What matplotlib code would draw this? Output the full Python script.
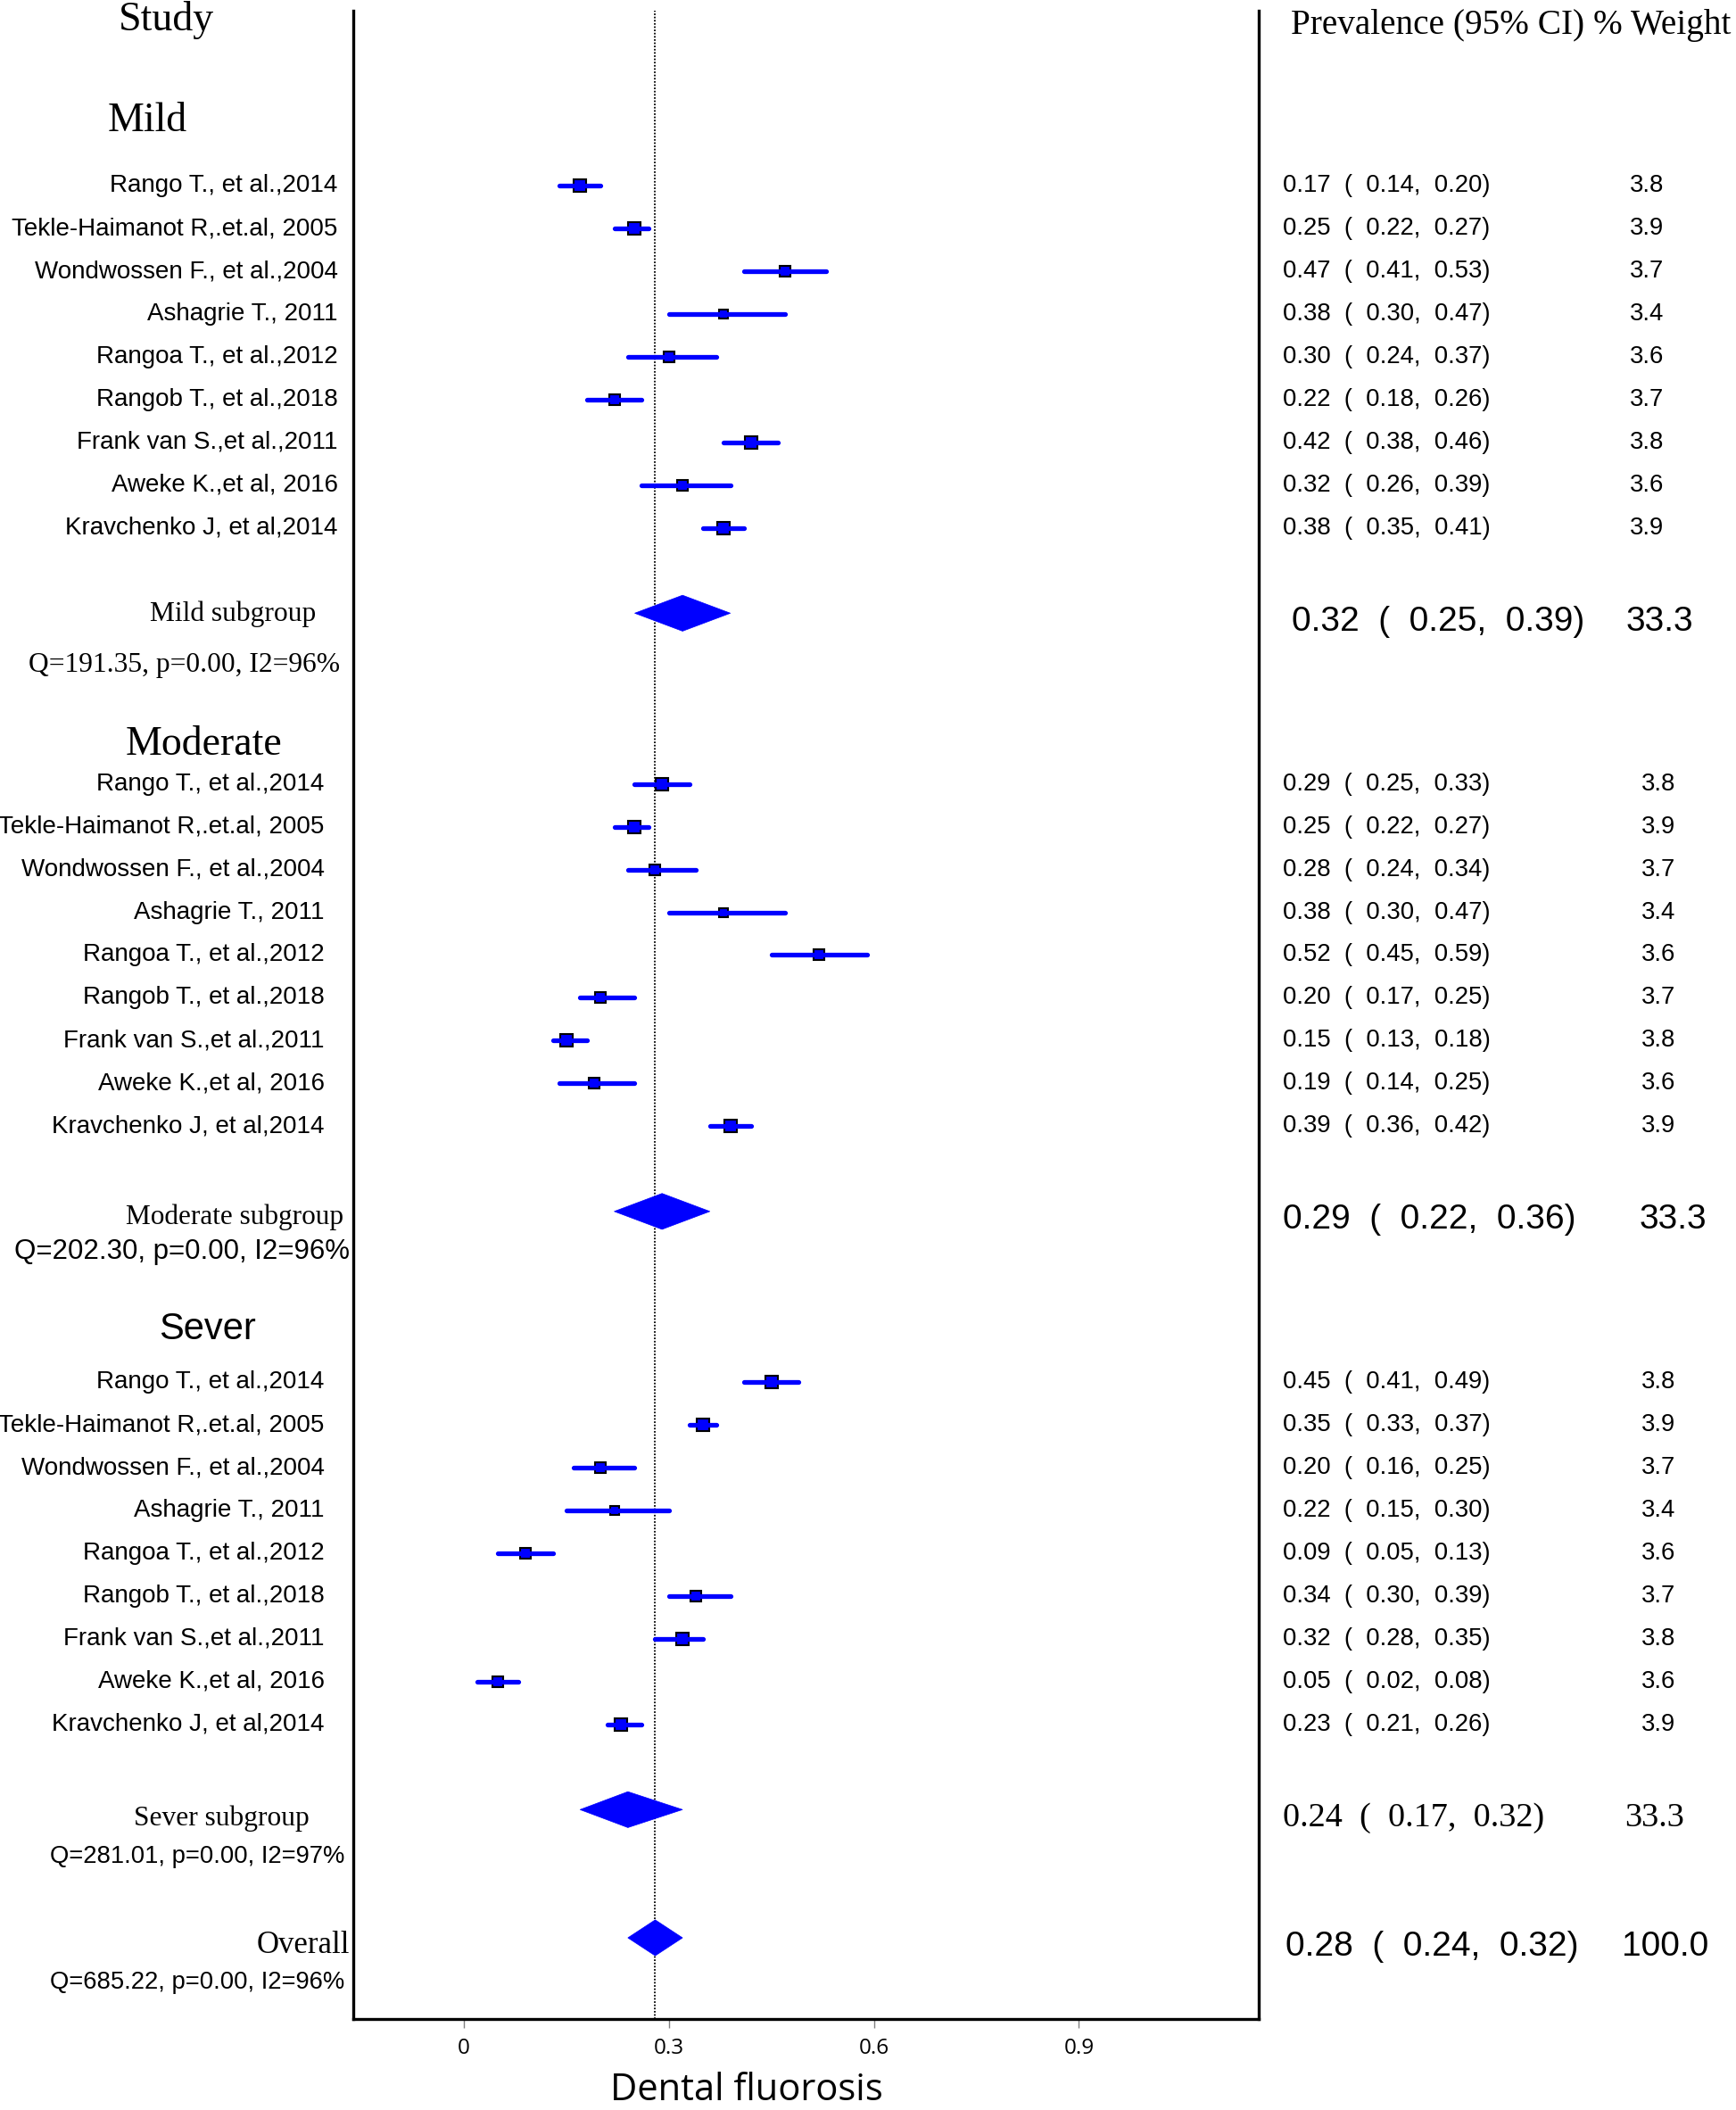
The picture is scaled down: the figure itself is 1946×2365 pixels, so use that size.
import matplotlib
matplotlib.use('Agg')
import matplotlib.pyplot as plt
import matplotlib.transforms as mtransforms
from matplotlib.patches import Polygon

# 数据
studies = ['Rango T., et al.,2014', 'Tekle-Haimanot R,.et.al, 2005', 'Wondwossen F., et al.,2004',
           'Ashagrie T., 2011', 'Rangoa T., et al.,2012', 'Rangob T., et al.,2018',
           'Frank van S.,et al.,2011', 'Aweke K.,et al, 2016', 'Kravchenko J, et al,2014']
groups = ['Mild', 'Moderate', 'Sever']

mild_est = [0.17, 0.25, 0.47, 0.38, 0.30, 0.22, 0.42, 0.32, 0.38]
mild_lo = [0.14, 0.22, 0.41, 0.30, 0.24, 0.18, 0.38, 0.26, 0.35]
mild_hi = [0.20, 0.27, 0.53, 0.47, 0.37, 0.26, 0.46, 0.39, 0.41]
mild_w = [3.8, 3.9, 3.7, 3.4, 3.6, 3.7, 3.8, 3.6, 3.9]

mod_est = [0.29, 0.25, 0.28, 0.38, 0.52, 0.20, 0.15, 0.19, 0.39]
mod_lo = [0.25, 0.22, 0.24, 0.30, 0.45, 0.17, 0.13, 0.14, 0.36]
mod_hi = [0.33, 0.27, 0.34, 0.47, 0.59, 0.25, 0.18, 0.25, 0.42]
mod_w = [3.8, 3.9, 3.7, 3.4, 3.6, 3.7, 3.8, 3.6, 3.9]

sev_est = [0.45, 0.35, 0.20, 0.22, 0.09, 0.34, 0.32, 0.05, 0.23]
sev_lo = [0.41, 0.33, 0.16, 0.15, 0.05, 0.30, 0.28, 0.02, 0.21]
sev_hi = [0.49, 0.37, 0.25, 0.30, 0.13, 0.39, 0.35, 0.08, 0.26]
sev_w = [3.8, 3.9, 3.7, 3.4, 3.6, 3.7, 3.8, 3.6, 3.9]

sub_labels = ['Mild subgroup', 'Moderate subgroup', 'Sever subgroup']
sub_est = [0.32, 0.29, 0.24]
sub_lo = [0.25, 0.22, 0.17]
sub_hi = [0.39, 0.36, 0.32]
sub_w = [33.3, 33.3, 33.3]
sub_het = ['Q=191.35, p=0.00, I2=96%', 'Q=202.30, p=0.00, I2=96%', 'Q=281.01, p=0.00, I2=97%']

overall_est, overall_lo, overall_hi, overall_w = 0.28, 0.24, 0.32, 100.0
overall_het = 'Q=685.22, p=0.00, I2=96%'

xticks = [0, 0.3, 0.6, 0.9]
xtick_labels = ['0', '0.3', '0.6', '0.9']

SANS = 'Liberation Sans'
SERIF = 'Liberation Serif'

# 布局（行位置）
study_rows = [[4 + i for i in range(9)], [18 + i for i in range(9)], [32 + i for i in range(9)]]
header_rows = [2.49, 17.07, 30.77]
sub_rows = [14, 28, 42]
overall_row = 45

fig = plt.figure(figsize=(19.46, 23.65), dpi=100)
ax = fig.add_axes([395.6 / 1946, 1 - 2263 / 2365, (1411 - 395.6) / 1946, (2263 - 12) / 2365])
ax.set_xlim(-0.1624, 1.1632)
ax.set_ylim(46.9, -0.1)
trans = mtransforms.blended_transform_factory(fig.transFigure, ax.transData)


def fmt(e, l, h):
    return '%.2f  (  %.2f,  %.2f)' % (e, l, h)


def marker_size(w):
    side = min(16.5, 12.5 + 8 * (w - 3.4))
    return (side - 2) * 0.72


all_data = [(mild_est, mild_lo, mild_hi, mild_w),
            (mod_est, mod_lo, mod_hi, mod_w),
            (sev_est, sev_lo, sev_hi, sev_w)]
name_right = [0.1946, 0.1868, 0.1868]
weight_x = [0.9388, 0.9457, 0.9457]

for g, (est, lo, hi, w) in enumerate(all_data):
    for i in range(9):
        y = study_rows[g][i]
        ax.plot([est[i]], [y], marker='s', ms=marker_size(w[i]), mfc='blue', mec='black',
                mew=1.5, zorder=2)
        ax.plot([lo[i], hi[i]], [y, y], color='blue', lw=3.8, solid_capstyle='round', zorder=3)
        ax.text(name_right[g], y, studies[i], transform=trans, ha='right', va='center',
                family=SANS, fontsize=20)
        ax.text(0.7387, y, fmt(est[i], lo[i], hi[i]), transform=trans, ha='left', va='center',
                family=SANS, fontsize=19.8)
        ax.text(weight_x[g], y, '%.1f' % w[i], transform=trans, ha='left', va='center',
                family=SANS, fontsize=19.8)


def diamond(e, l, h, y):
    ax.add_patch(Polygon([(l, y), (e, y - 0.42), (h, y), (e, y + 0.42)], closed=True,
                         facecolor='blue', edgecolor='blue', lw=0.5, zorder=3))


for g in range(3):
    diamond(sub_est[g], sub_lo[g], sub_hi[g], sub_rows[g])
diamond(overall_est, overall_lo, overall_hi, overall_row)

# 参考线
ax.axvline(overall_est, color='black', lw=1.3, ls=(0, (1.0, 1.0)), zorder=1)

# 分组标题
ax.text(0.0682, 0.12, 'Study', transform=trans, ha='left', va='center', family=SERIF, fontsize=33)
ax.text(0.0620, header_rows[0], 'Mild', transform=trans, ha='left', va='center', family=SERIF, fontsize=33)
ax.text(0.0721, header_rows[1], 'Moderate', transform=trans, ha='left', va='center', family=SERIF, fontsize=33)
ax.text(0.0915, header_rows[2], 'Sever', transform=trans, ha='left', va='center', family=SANS, fontsize=30)
ax.text(0.7434, 0.24, 'Prevalence (95% CI) % Weight', transform=trans, ha='left', va='center',
        family=SERIF, fontsize=28.3)

# 亚组文字
ax.text(0.1822, 14.02, sub_labels[0], transform=trans, ha='right', va='center', family=SERIF, fontsize=22.7)
ax.text(0.1961, 15.21, sub_het[0], transform=trans, ha='right', va='center', family=SERIF, fontsize=22.7)
ax.text(0.1977, 28.13, sub_labels[1], transform=trans, ha='right', va='center', family=SERIF, fontsize=22.5)
ax.text(0.2015, 28.94, sub_het[1], transform=trans, ha='right', va='center', family=SANS, fontsize=22.5)
ax.text(0.1783, 42.2, sub_labels[2], transform=trans, ha='right', va='center', family=SERIF, fontsize=22.6)
ax.text(0.1985, 43.09, sub_het[2], transform=trans, ha='right', va='center', family=SANS, fontsize=19.7)
ax.text(0.2015, 45.17, 'Overall', transform=trans, ha='right', va='center', family=SERIF, fontsize=25)
ax.text(0.1985, 46.05, overall_het, transform=trans, ha='right', va='center', family=SANS, fontsize=19.7)

big_est_x = [0.7441, 0.7387, 0.7387]
big_w_x = [0.9364, 0.9442, 0.9357]
big_family = [SANS, SANS, SERIF]
big_size = [28, 28, 27.5]
for g in range(3):
    y = sub_rows[g] + 0.2
    ax.text(big_est_x[g], y, fmt(sub_est[g], sub_lo[g], sub_hi[g]), transform=trans, ha='left',
            va='center', family=big_family[g], fontsize=big_size[g])
    ax.text(big_w_x[g], y, '%.1f' % sub_w[g], transform=trans, ha='left', va='center',
            family=big_family[g], fontsize=big_size[g])
ax.text(0.7403, overall_row + 0.2, fmt(overall_est, overall_lo, overall_hi), transform=trans,
        ha='left', va='center', family=SANS, fontsize=28)
ax.text(0.9341, overall_row + 0.2, '%.1f' % overall_w, transform=trans, ha='left', va='center',
        family=SANS, fontsize=28)

# 坐标轴
ax.spines['top'].set_visible(False)
for s in ['left', 'right', 'bottom']:
    ax.spines[s].set_linewidth(2.4)
    ax.spines[s].set_color('black')
ax.set_yticks([])
ax.set_xticks(xticks)
ax.set_xticklabels(xtick_labels, family='Open Sans', fontsize=17.5)
ax.tick_params(axis='x', direction='out', length=7.2, width=1, color='#808080', pad=8)
fig.text(0.430, 0.0048, 'Dental fluorosis', ha='center', va='baseline', family='Open Sans', fontsize=30)

fig.savefig('out.png', dpi=100)
